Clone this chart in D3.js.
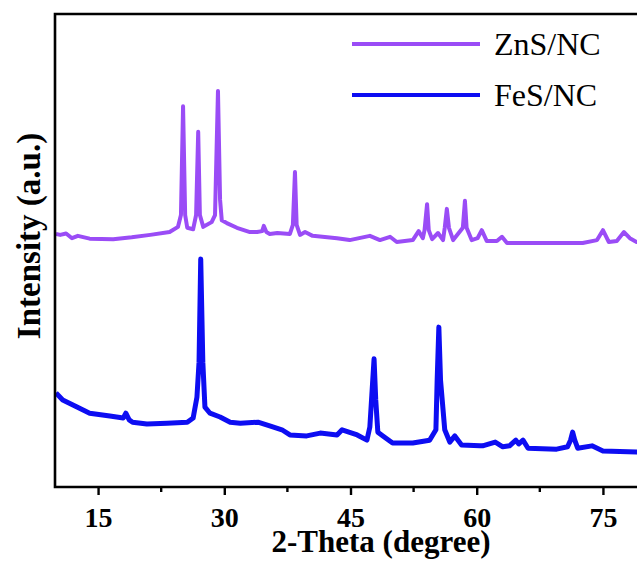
<!DOCTYPE html>
<html>
<head>
<meta charset="utf-8">
<script src="https://cdn.jsdelivr.net/npm/d3@7"></script>
<style>
  html, body { margin: 0; padding: 0; background: #fff; }
  svg { display: block; }
  text { font-family: "Liberation Serif", "Times New Roman", serif; }
</style>
</head>
<body>
<div id="chart"></div>
<script>
// 2-theta (degree) and intensity (a.u., purple trace already offset upward)
var znsTheta = [10.0, 10.5, 11.2, 11.9, 12.6, 14.0, 16.8, 19.0, 21.2, 23.5, 24.5, 24.85, 25.1, 25.35, 25.6, 26.3, 26.65, 26.9, 27.1, 27.5, 28.5, 28.9, 29.25, 29.5, 29.7, 30.3, 31.5, 33.05, 33.9, 34.5, 34.7, 35.0, 35.4, 36.3, 37.8, 38.15, 38.4, 38.6, 39.0, 39.6, 40.5, 43.4, 44.9, 47.3, 48.5, 49.7, 50.5, 52.4, 53.1, 53.6, 53.8, 54.1, 54.3, 54.7, 55.4, 56.0, 56.2, 56.45, 56.7, 57.2, 58.35, 58.6, 58.8, 59.4, 60.1, 60.6, 61.2, 62.4, 63.0, 63.6, 67.5, 72.6, 74.3, 75.0, 75.7, 76.65, 77.5, 78.2, 79.0, 80.0];
var znsIntensity = [53.5, 53.3, 53.6, 52.6, 53.1, 52.5, 52.4, 52.8, 53.3, 53.9, 55.0, 57.5, 80.5, 57.5, 54.8, 54.5, 57.5, 75.1, 57.5, 55.0, 56.0, 57.5, 83.7, 60.7, 56.4, 55.8, 54.8, 53.9, 53.9, 54.1, 55.2, 53.9, 53.5, 53.7, 53.5, 55.4, 66.6, 55.4, 53.3, 53.9, 53.1, 52.6, 52.2, 53.1, 52.2, 52.9, 51.8, 52.2, 54.1, 52.6, 54.3, 59.8, 54.3, 52.4, 53.7, 52.2, 54.8, 58.8, 54.8, 52.2, 54.8, 60.5, 54.8, 52.2, 52.6, 54.3, 52.0, 52.0, 52.9, 51.6, 51.6, 51.6, 52.2, 54.3, 51.8, 52.0, 53.9, 52.6, 51.8, 51.6];

var fesTheta = [10.0, 10.8, 12.5, 14.0, 16.4, 18.0, 18.3, 18.7, 19.1, 20.8, 23.2, 25.6, 26.3, 26.75, 27.0, 27.2, 27.45, 27.7, 28.3, 29.5, 30.7, 31.9, 34.0, 35.4, 36.85, 37.8, 39.8, 41.4, 43.4, 44.0, 45.8, 46.95, 47.3, 47.5, 47.8, 48.0, 48.25, 48.85, 50.0, 52.4, 54.4, 55.15, 55.3, 55.5, 55.7, 56.2, 56.8, 57.4, 58.2, 60.4, 60.7, 62.2, 63.1, 63.9, 64.65, 65.0, 65.5, 66.1, 69.5, 70.8, 71.15, 71.4, 71.65, 72.0, 73.7, 75.0, 79.0, 80.0];
var fesIntensity = [19.9, 18.4, 16.9, 15.6, 15.0, 14.6, 15.6, 14.2, 13.7, 13.3, 13.5, 13.7, 14.6, 19.0, 26.4, 48.2, 26.4, 16.9, 15.6, 14.8, 13.7, 13.5, 13.7, 12.9, 12.1, 11.0, 10.8, 11.4, 11.0, 12.1, 11.0, 9.9, 12.7, 18.4, 27.1, 18.4, 11.6, 10.8, 9.3, 9.3, 9.9, 12.1, 22.6, 33.8, 22.6, 12.1, 9.5, 10.8, 8.9, 8.7, 8.7, 9.5, 8.5, 8.7, 9.9, 9.1, 9.9, 8.2, 8.0, 8.5, 9.9, 11.6, 9.9, 8.2, 8.7, 7.6, 7.4, 7.4];

var seriesNames = ["ZnS/NC", "FeS/NC"];
var seriesColors = ["#9a4cf6", "#0d0df2"];
var majorTicks = [15, 30, 45, 60, 75];
var minorTicks = [22.5, 37.5, 52.5, 67.5];

var width = 637, height = 561;

var svg = d3.select("#chart").append("svg")
    .attr("width", width)
    .attr("height", height);

var x = d3.scaleLinear().domain([10, 80]).range([56, 645]);
var y = d3.scaleLinear().domain([0, 100]).range([487, 14]);

var line = d3.line()
    .x(d => x(d[0]))
    .y(d => y(d[1]));

var series = [
    {name: seriesNames[0], color: seriesColors[0], pts: d3.zip(znsTheta, znsIntensity), w: 4},
    {name: seriesNames[1], color: seriesColors[1], pts: d3.zip(fesTheta, fesIntensity), w: 5}
];

svg.append("defs").append("clipPath").attr("id", "plot")
    .append("rect").attr("x", 56).attr("y", 14).attr("width", 600).attr("height", 473);

svg.append("g").attr("clip-path", "url(#plot)")
  .selectAll("path")
  .data(series)
  .enter().append("path")
    .attr("fill", "none")
    .attr("stroke", d => d.color)
    .attr("stroke-width", d => d.w)
    .attr("stroke-linejoin", "round")
    .attr("d", d => line(d.pts));

// frame: left, top, bottom
svg.append("path")
    .attr("fill", "none")
    .attr("stroke", "#000")
    .attr("stroke-width", 2.6)
    .attr("d", "M" + width + ",14H55V487H" + width);

// bottom axis
var xAxis = svg.append("g")
    .attr("transform", "translate(0,487)")
    .call(d3.axisBottom(x).tickValues(majorTicks).tickSize(8).tickFormat(d3.format("d")));
xAxis.select(".domain").remove();
xAxis.selectAll(".tick line").attr("stroke", "#000").attr("stroke-width", 2.4);
xAxis.selectAll(".tick text")
    .attr("y", 40)
    .attr("dy", 0)
    .attr("fill", "#000")
    .style("font-size", "28px")
    .style("font-weight", "bold")
    .style("font-family", "'Liberation Serif', serif");

svg.append("g")
    .attr("transform", "translate(0,487)")
    .selectAll("line")
    .data(minorTicks)
    .enter().append("line")
    .attr("x1", d => x(d)).attr("x2", d => x(d))
    .attr("y1", 0).attr("y2", 5)
    .attr("stroke", "#000").attr("stroke-width", 2.4);

svg.append("text")
    .attr("x", 381)
    .attr("y", 552)
    .attr("text-anchor", "middle")
    .style("font-size", "31px")
    .style("font-weight", "bold")
    .text("2-Theta (degree)");

svg.append("text")
    .attr("transform", "translate(40,236) rotate(-90)")
    .attr("text-anchor", "middle")
    .style("font-size", "33px")
    .style("font-weight", "bold")
    .text("Intensity (a.u.)");

// legend
var legend = svg.append("g").selectAll("g")
    .data(series)
    .enter().append("g")
    .attr("transform", (d, i) => "translate(0," + (44 + i * 51) + ")");
legend.append("line")
    .attr("x1", 352).attr("x2", 480)
    .attr("stroke", d => d.color)
    .attr("stroke-width", 4);
legend.append("text")
    .attr("x", 494)
    .attr("y", 11)
    .style("font-size", "32px")
    .text(d => d.name);
</script>
</body>
</html>
